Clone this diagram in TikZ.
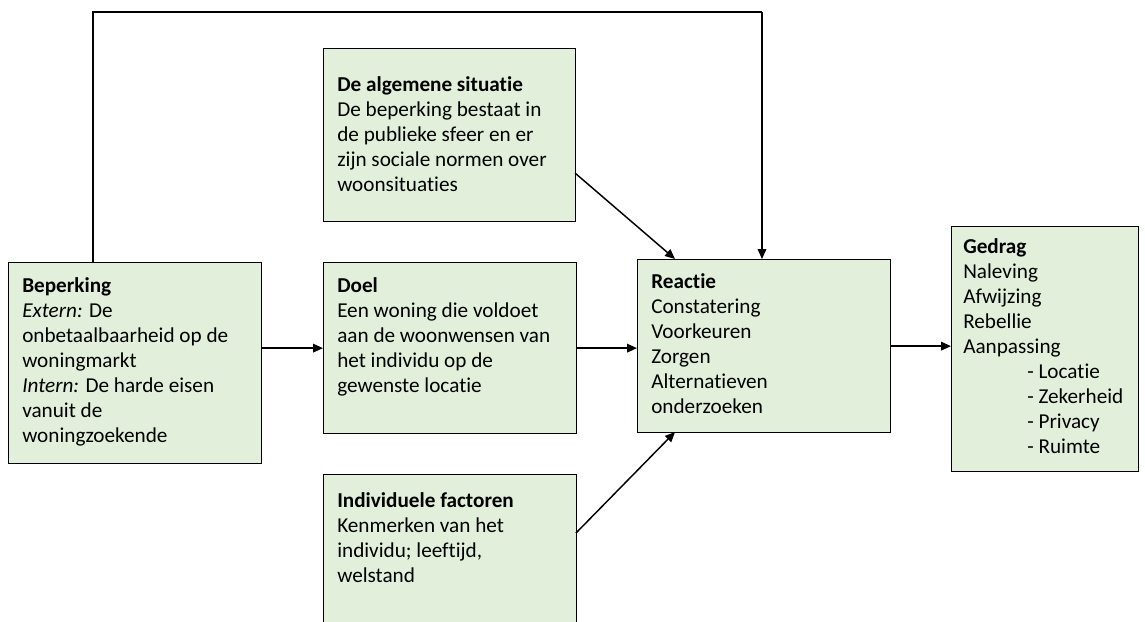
\documentclass[tikz,border=0pt]{standalone}
\usepackage{fontspec}
\setmainfont{Carlito}[Ligatures=NoCommon]
\usetikzlibrary{arrows.meta}
\definecolor{boxgreen}{HTML}{E2EFDA}
\tikzset{
  box/.style={draw=black, line width=0.95pt, fill=boxgreen, rectangle, inner sep=0pt, anchor=north west},
  txt/.style={anchor=north west, inner sep=0pt, align=left, font=\fontsize{15.9pt}{18.75pt}\selectfont},
  link/.style={line width=1.1pt, -{Triangle[length=7.5pt,width=6.5pt]}},
  plain/.style={line width=1.1pt}
}
\begin{document}
\begin{tikzpicture}[x=0.75pt, y=-0.75pt]
  \useasboundingbox (0,0) rectangle (1145,621);
  \clip (0,0) rectangle (1145,621);

  % boxes
  \node[box, minimum width=253*0.75pt, minimum height=201*0.75pt] (bep) at (8,262) {};
  \node[box, minimum width=252*0.75pt, minimum height=173*0.75pt] (alg) at (323,48) {};
  \node[box, minimum width=253*0.75pt, minimum height=171*0.75pt] (doel) at (323,262) {};
  \node[box, minimum width=253*0.75pt, minimum height=170*0.75pt] (ind) at (323,474) {};
  \node[box, minimum width=253*0.75pt, minimum height=173*0.75pt] (reac) at (637,259) {};
  \node[box, minimum width=187*0.75pt, minimum height=245*0.75pt] (ged) at (951,226) {};

  % box texts (each placed at its first baseline minus the strut height)
  \node[txt] (bept) at (22,292-17.5) {\strut\textbf{Beperking}\\\textit{Extern:} De\\onbetaalbaarheid op de\\woningmarkt\\\textit{Intern:} De harde eisen\\vanuit de\\woningzoekende};
  \node[txt] (algt) at (337,91-17.5) {\strut\textbf{De algemene situatie}\\De beperking bestaat in\\de publieke sfeer en er\\zijn sociale normen over\\woonsituaties};
  \node[txt] (doelt) at (337,292-17.5) {\strut\textbf{Doel}\\Een woning die voldoet\\aan de woonwensen van\\het individu op de\\gewenste locatie};
  \node[txt] (indt) at (337,507-17.5) {\strut\textbf{Individuele factoren}\\Kenmerken van het\\individu; leeftijd,\\welstand};
  \node[txt] (react) at (651,288-17.5) {\strut\textbf{Reactie}\\Constatering\\Voorkeuren\\Zorgen\\Alternatieven\\onderzoeken};
  \node[txt] (gedt) at (963,253-17.5) {\strut\textbf{Gedrag}\\Naleving\\Afwijzing\\Rebellie\\Aanpassing\\\hspace*{48pt}- Locatie\\\hspace*{48pt}- Zekerheid\\\hspace*{48pt}- Privacy\\\hspace*{48pt}- Ruimte};

  % connectors
  \coordinate (tl) at (93,12);
  \coordinate (tr) at (762,12);
  \draw[plain] (bep.north -| tl) -- (tl) -- (tr);
  \draw[link] (tr) -- (tr |- reac.north);
  \draw[link] (bep.east |- doel.west) -- (doel.west);
  \draw[link] (doel.east) -- (doel.east -| reac.west);
  \draw[link] (reac.east) -- (reac.east -| ged.west);
  \coordinate (algout) at (575,173);
  \coordinate (reacin) at (675,259);
  \draw[link] (algout) -- (reacin);
  \coordinate (indout) at (576,533);
  \coordinate (reacout) at (675,432);
  \draw[link] (indout) -- (reacout);
\end{tikzpicture}
\end{document}
